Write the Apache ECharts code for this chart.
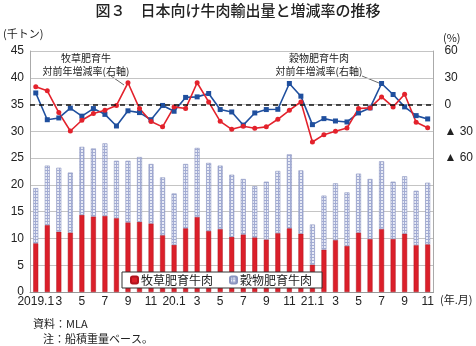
<!DOCTYPE html>
<html><head><meta charset="utf-8">
<script src="https://cdn.jsdelivr.net/npm/echarts@6/dist/echarts.min.js"></script>
<style>html,body{margin:0;padding:0;background:#fff}#c{width:476px;height:346px}</style>
</head><body><div id="c"></div>
<script>
const months = ['2019.1','2','3','4','5','6','7','8','9','10','11','12',
  '20.1','2','3','4','5','6','7','8','9','10','11','12',
  '21.1','2','3','4','5','6','7','8','9','10','11'];
const grassFed = [9.1,12.5,11.25,11.1,14.4,14.1,14.2,13.8,13.0,13.1,12.8,10.6,
  8.8,11.9,14.0,11.4,11.75,10.3,10.75,10.2,9.8,11.0,11.9,10.9,
  5.1,7.9,9.7,8.6,11.1,9.9,11.75,9.9,10.9,8.75,8.9];
const grainFed = [10.3,11.1,11.95,11.2,12.7,12.7,13.55,10.7,11.5,12.1,11.1,10.8,
  9.6,12.0,12.9,12.7,11.85,11.6,10.35,9.55,10.8,11.6,13.8,11.8,
  7.5,10.1,10.6,10.0,11.0,11.2,12.65,10.7,10.7,10.15,11.5];
const grassRate = [20,15.4,-9,-29.6,-17.6,-10,-6.4,-1,24.4,-4.5,-19,-25,
  -2.6,-4.5,24.4,3,-18.75,-27.75,-24.4,-26.6,-25,-16.5,-6.4,3,
  -42,-33.75,-30,-26.25,-4.5,-3.75,8.6,-2.6,11.6,-19.9,-25.9];
const grainRate = [13,-17,-15,-4,-13,-4.5,-11,-24,-7,-9,-17,-1,
  -7.5,8,8.6,12.4,-5.6,-8.3,-23,-9.4,-5.6,-5.3,23.6,9.4,
  -22.5,-15.75,-18.4,-19.5,-9.4,-3.75,23.6,11.25,-2.6,-12.4,-16.1];

const FONT = "'Liberation Sans','Noto Sans CJK JP',sans-serif";
const JFONT = "'Noto Sans CJK JP',sans-serif";

const pc = document.createElement('canvas');
pc.width = 3; pc.height = 3;
const px = pc.getContext('2d');
px.fillStyle = '#e8ebf6'; px.fillRect(0,0,3,3);
px.fillStyle = '#a3acd3'; px.fillRect(0,2,3,1); px.fillRect(2,0,1,3);

const chart = echarts.init(document.getElementById('c'), null, {renderer:'canvas'});
chart.setOption({
  animation:false,
  textStyle:{fontFamily:FONT},
  grid:{left:30,right:42,top:51,bottom:54,containLabel:false},
  legend:{
    data:['牧草肥育牛肉','穀物肥育牛肉'],
    left:122, top:272, orient:'horizontal',
    itemWidth:7,itemHeight:7,itemGap:16,
    padding:[2,10,2,8],
    backgroundColor:'#fff',borderColor:'#333',borderWidth:1,borderRadius:0,
    textStyle:{fontSize:12,color:'#222',fontFamily:JFONT,padding:[0,0,0,-2]}
  },
  xAxis:{
    type:'category',data:months,boundaryGap:true,
    axisLine:{lineStyle:{color:'#999'}},
    axisTick:{interval:0,length:3,lineStyle:{color:'#999'}},
    axisLabel:{interval:1,margin:4,fontSize:12,color:'#222'}
  },
  yAxis:[{
    type:'value',min:0,max:45,interval:5,
    axisLine:{show:true,lineStyle:{color:'#aaa'}},
    axisTick:{show:false},
    axisLabel:{fontSize:12,color:'#222',margin:6},
    splitLine:{lineStyle:{color:'#c4c4c4'}}
  },{
    type:'value',min:-210,max:60,interval:30,
    axisLine:{show:true,lineStyle:{color:'#aaa'}},
    axisTick:{show:false},
    splitLine:{show:false},
    axisLabel:{fontSize:12,color:'#222',margin:11,
      formatter:function(v){ if(v>0) return String(v); if(v===0) return '0'; if(v>=-60) return '▲ '+(-v); return ''; }}
  }],
  series:[
    {name:'牧草肥育牛肉',type:'bar',stack:'t',data:grassFed,barWidth:5,
      itemStyle:{color:'#db1f2a',borderColor:'#b0141e',borderWidth:0.5}},
    {name:'穀物肥育牛肉',type:'bar',stack:'t',data:grainFed,barWidth:5,
      itemStyle:{color:{image:pc,repeat:'repeat'},borderColor:'#8a94bf',borderWidth:0.6}},
    {name:'穀物肥育牛肉対前年増減率',type:'line',yAxisIndex:1,data:grainRate,
      symbol:'rect',symbolSize:5,showSymbol:true,
      lineStyle:{color:'#1f4f9e',width:1.6},itemStyle:{color:'#1f4f9e'},
      markLine:{silent:true,symbol:['none','none'],label:{show:false},
        lineStyle:{type:[5,4],color:'#111',width:1.5},data:[{yAxis:0}]}},
    {name:'牧草肥育牛対前年増減率',type:'line',yAxisIndex:1,data:grassRate,
      symbol:'circle',symbolSize:5,showSymbol:true,
      lineStyle:{color:'#e3222c',width:1.6},itemStyle:{color:'#e3222c'}}
  ],
  graphic:[
    {type:'text',left:'center',top:3,style:{text:'図３　日本向け牛肉輸出量と増減率の推移',font:'500 15px '+JFONT,fill:'#222'}},
    {type:'text',left:3,top:28,style:{text:'(千トン)',font:'11px '+JFONT,fill:'#222'}},
    {type:'text',left:443,top:32,style:{text:'(%)',font:'11px '+JFONT,fill:'#222'}},
    {type:'text',left:440,top:294,style:{text:'(年.月)',font:'11px '+JFONT,fill:'#222'}},
    {type:'text',x:86,y:58,style:{text:'牧草肥育牛',font:'10px '+JFONT,fill:'#222',align:'center',verticalAlign:'middle'}},
    {type:'text',x:86,y:71,style:{text:'対前年増減率(右軸)',font:'10px '+JFONT,fill:'#222',align:'center',verticalAlign:'middle'}},
    {type:'line',shape:{x1:111,y1:76,x2:124,y2:85},style:{stroke:'#444',lineWidth:0.8}},
    {type:'text',x:319,y:58,style:{text:'穀物肥育牛肉',font:'10px '+JFONT,fill:'#222',align:'center',verticalAlign:'middle'}},
    {type:'text',x:319,y:71,style:{text:'対前年増減率(右軸)',font:'10px '+JFONT,fill:'#222',align:'center',verticalAlign:'middle'}},
    {type:'line',shape:{x1:362,y1:76,x2:379,y2:83},style:{stroke:'#444',lineWidth:0.8}},
    {type:'text',left:33,top:318,style:{text:'資料：MLA',font:'11px '+JFONT,fill:'#222'}},
    {type:'text',left:43,top:333,style:{text:'注：船積重量ベース。',font:'11px '+JFONT,fill:'#222'}}
  ]
});
</script></body></html>
